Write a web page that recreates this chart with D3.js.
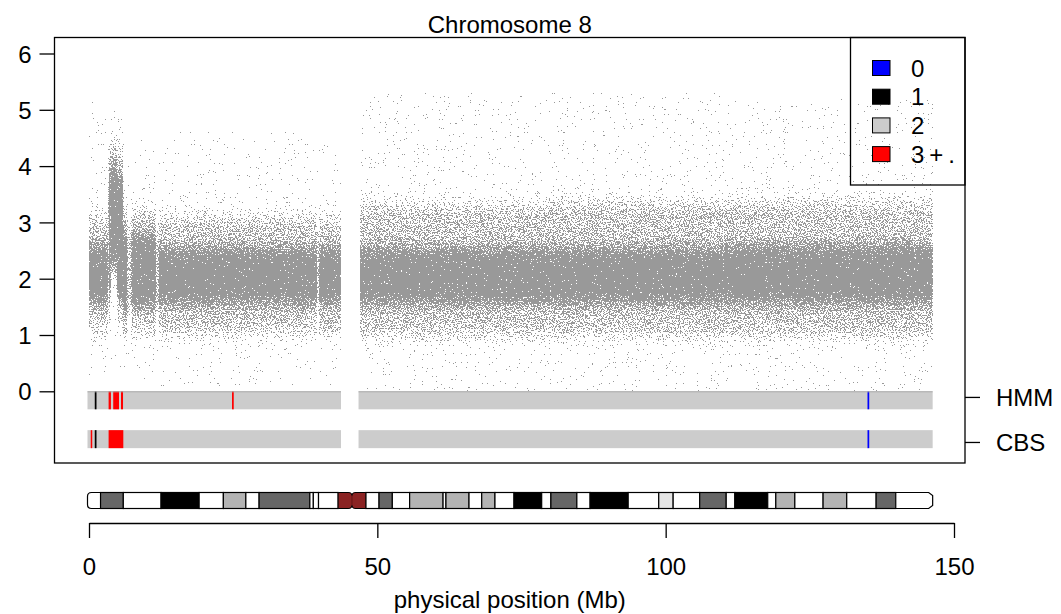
<!DOCTYPE html>
<html>
<head>
<meta charset="utf-8">
<script src="https://cdn.jsdelivr.net/npm/d3@7.9.0/dist/d3.min.js"></script>
<style>
  body { margin: 0; background: #fff; }
  svg text { font-family: "Liberation Sans", Arial, sans-serif; font-size: 24px; fill: #000; }
</style>
</head>
<body>
<svg id="chart" width="1061" height="614"></svg>
<script>
// copy-number cloud, one row per stretch of the chromosome (Mb)
const cloudStart = [0.0, 3.4, 3.75, 4.9, 5.9, 6.65, 7.35, 11.6, 12.1, 39.5, 39.9, 47.0, 80.0, 110.0];
const cloudEnd   = [3.3, 3.75, 4.9, 5.9, 6.65, 7.35, 11.6, 12.1, 39.5, 39.9, 43.7, 80.0, 110.0, 146.3];
const coreLo = [1.6, 1.75, 2.25, 1.65, 1.45, 2.0, 1.55, 2.0, 1.6, 2.0, 1.6, 1.6, 1.6, 1.6];
const coreHi = [2.55, 3.8, 3.95, 3.75, 2.8, 2.0, 2.75, 2.0, 2.5, 2.0, 2.5, 2.5, 2.5, 2.55];
const midLo  = [1.05, 1.2, 2.0, 1.2, 0.9, 1.4, 1.0, 1.4, 1.0, 1.4, 1.0, 0.95, 0.95, 0.95];
const midHi  = [3.15, 4.4, 4.5, 4.3, 3.3, 2.9, 3.25, 2.9, 3.15, 2.9, 3.1, 3.35, 3.4, 3.4];
const outLo  = [0.2, 0.5, 0.4, 0.4, 0.2, 0.6, 0.2, 0.6, 0.1, 0.6, 0.1, 0.0, 0.0, 0.0];
const outHi  = [5.2, 5.0, 5.0, 5.0, 4.6, 4.0, 4.5, 4.0, 4.6, 4.0, 4.4, 5.3, 5.3, 5.2];

// segmentation tracks
const armStart = [0.0, 47.0];
const armEnd   = [43.7, 146.3];
const hmmStart = [1.0, 3.4, 4.2, 5.55, 24.8, 135.0];
const hmmEnd   = [1.3, 3.8, 5.2, 5.9, 25.1, 135.3];
const hmmState = [1, 3, 3, 3, 3, 0];
const cbsStart = [0.3, 1.0, 3.4, 135.0];
const cbsEnd   = [0.5, 1.3, 5.95, 135.3];
const cbsState = [3, 1, 3, 0];

const stateLabels = ["0", "1", "2", "3+."];
const stateColors = ["#0000ff", "#000000", "#cccccc", "#ff0000"];

// ideogram bands (Mb)
const bandStart = [0.0, 2.0, 5.95, 12.5, 19.1, 23.3, 27.2, 29.5, 38.3, 38.9, 39.8, 43.2, 45.6, 48.0, 50.3, 52.6, 55.6, 61.4, 61.9, 65.9, 68.1, 70.4, 73.7, 78.5, 80.1, 84.6, 86.9, 93.5, 98.8, 101.3, 105.9, 110.5, 112.0, 117.7, 119.1, 122.4, 127.3, 131.4, 136.5, 139.9];
const bandEnd   = [2.0, 5.95, 12.5, 19.1, 23.3, 27.2, 29.5, 38.3, 38.9, 39.8, 43.2, 45.6, 48.0, 50.3, 52.6, 55.6, 61.4, 61.9, 65.9, 68.1, 70.4, 73.7, 78.5, 80.1, 84.6, 86.9, 93.5, 98.8, 101.3, 105.9, 110.5, 112.0, 117.7, 119.1, 122.4, 127.3, 131.4, 136.5, 139.9, 146.3];
const bandStain = ["gneg", "gpos75", "gneg", "gpos100", "gneg", "gpos50", "gneg", "gpos75", "gneg", "gneg", "gneg", "acen", "acen", "gneg", "gpos75", "gneg", "gpos50", "gneg", "gpos50", "gneg", "gpos50", "gneg", "gpos100", "gneg", "gpos75", "gneg", "gpos100", "gneg", "gpos25", "gneg", "gpos75", "gneg", "gpos100", "gneg", "gpos50", "gneg", "gpos50", "gneg", "gpos75", "gneg"];

const yTicks = [0, 1, 2, 3, 4, 5, 6];
const xTicks = [0, 50, 100, 150];
const trackTicks = [-0.1, -0.9];
const trackLabels = ["HMM", "CBS"];

const stainFill = { gneg: "#ffffff", gpos25: "#e5e5e5", gpos50: "#b3b3b3", gpos75: "#666666", gpos100: "#000000", acen: "#8b2323" };

const svg = d3.select("#chart");
const box = { left: 54.5, right: 965, top: 37.5, bottom: 463 };

const x = d3.scaleLinear().domain([0, 150]).range([89, 954]);
const y = d3.scaleLinear().domain([0, 6]).range([391.3, 53.5]);

svg.append("rect").attr("width", 1061).attr("height", 614).attr("fill", "#fff");

// speckle filter: turns a density-coded fill (red channel) into scattered grey dots
const defs = svg.append("defs");
const f = defs.append("filter").attr("id", "speckle")
    .attr("filterUnits", "userSpaceOnUse")
    .attr("x", box.left).attr("y", box.top)
    .attr("width", box.right - box.left).attr("height", box.bottom - box.top)
    .attr("color-interpolation-filters", "sRGB");
f.append("feTurbulence").attr("type", "fractalNoise").attr("baseFrequency", 0.77)
    .attr("numOctaves", 2).attr("seed", 7).attr("result", "noise");
f.append("feColorMatrix").attr("in", "noise").attr("type", "matrix")
    .attr("values", "0 0 0 0 0  0 0 0 0 0  0 0 0 0 0  2 0 0 0 -0.5").attr("result", "n");
f.append("feGaussianBlur").attr("in", "SourceGraphic").attr("stdDeviation", "0.4 8").attr("result", "blur");
f.append("feColorMatrix").attr("in", "blur").attr("type", "matrix")
    .attr("values", "0 0 0 0 0  0 0 0 0 0  0 0 0 0 0  1 0 0 0 0").attr("result", "d");
f.append("feComposite").attr("in", "d").attr("in2", "n").attr("operator", "arithmetic")
    .attr("k1", 0).attr("k2", 1).attr("k3", -1).attr("k4", 0.495).attr("result", "diff");
f.append("feComponentTransfer").attr("in", "diff").attr("result", "mask")
    .append("feFuncA").attr("type", "discrete").attr("tableValues", "0 1");
f.append("feFlood").attr("flood-color", "#999999").attr("result", "grey");
f.append("feComposite").attr("in", "grey").attr("in2", "mask").attr("operator", "in");

// cloud layers: outer (sparse), middle, core (dense)
const cloud = cloudStart.map((s, i) => ({
    s, e: cloudEnd[i],
    layers: [[outLo[i], outHi[i]], [midLo[i], midHi[i]], [coreLo[i], coreHi[i]]]
}));
const density = [0.01, 0.45, 0.97];
const cg = svg.append("g").attr("filter", "url(#speckle)");
cg.append("rect").attr("x", box.left).attr("y", box.top)
    .attr("width", box.right - box.left).attr("height", box.bottom - box.top)
    .attr("fill", "#000");
[0, 1, 2].forEach(k => {
    cg.selectAll(null)
        .data(cloud.filter(d => d.layers[k][1] > d.layers[k][0]))
        .join("rect")
        .attr("x", d => x(d.s))
        .attr("width", d => x(d.e) - x(d.s))
        .attr("y", d => y(d.layers[k][1]))
        .attr("height", d => y(d.layers[k][0]) - y(d.layers[k][1]))
        .attr("fill", `rgb(${Math.round(density[k] * 255)},0,0)`);
});

// segmentation tracks
function drawTrack(top, bottom, starts, ends, states) {
    const g = svg.append("g");
    g.selectAll(null).data(armStart).join("rect")
        .attr("x", (d, i) => x(d) - 1.5)
        .attr("width", (d, i) => x(armEnd[i]) - x(d) + 1.5)
        .attr("y", y(top)).attr("height", y(bottom) - y(top))
        .attr("fill", stateColors[2]);
    g.selectAll(null).data(starts).join("rect")
        .attr("x", d => x(d))
        .attr("width", (d, i) => Math.max(1.5, x(ends[i]) - x(d)))
        .attr("y", y(top)).attr("height", y(bottom) - y(top))
        .attr("fill", (d, i) => stateColors[states[i]]);
    return g;
}
const hmm = drawTrack(0, -0.32, hmmStart, hmmEnd, hmmState);
hmm.selectAll(null).data(armStart).join("line")
    .attr("x1", (d) => x(d) - 1.5).attr("x2", (d, i) => x(armEnd[i]))
    .attr("y1", y(0) + 0.5).attr("y2", y(0) + 0.5)
    .attr("stroke", "#aaaaaa").attr("stroke-width", 1);
drawTrack(-0.69, -1.01, cbsStart, cbsEnd, cbsState);

// plot box
svg.append("rect")
    .attr("x", box.left).attr("y", box.top)
    .attr("width", box.right - box.left).attr("height", box.bottom - box.top)
    .attr("fill", "none").attr("stroke", "#000").attr("stroke-width", 1.3);

// left axis
const yAxis = svg.append("g").attr("transform", `translate(${box.left},0)`)
    .call(d3.axisLeft(y).tickValues(yTicks).tickSize(15).tickPadding(8).tickFormat(d3.format("d")));
yAxis.select(".domain").remove();
yAxis.selectAll("line").attr("stroke-width", 1.3);
yAxis.selectAll("text").attr("font-size", 24).attr("dy", "0.36em").attr("font-family", null);

// right axis with track names
const rAxis = svg.append("g").attr("transform", `translate(${box.right},0)`)
    .call(d3.axisRight(y).tickValues(trackTicks).tickSize(15).tickPadding(16)
        .tickFormat((d, i) => trackLabels[i]));
rAxis.select(".domain").remove();
rAxis.selectAll("line").attr("stroke-width", 1.3);
rAxis.selectAll("text").attr("font-size", 24).attr("dy", "0.36em").attr("font-family", null);

// title
svg.append("text").attr("x", (box.left + box.right) / 2).attr("y", 33)
    .attr("text-anchor", "middle").text("Chromosome 8");

// legend
const lg = svg.append("g");
lg.append("rect").attr("x", 850.5).attr("y", box.top)
    .attr("width", box.right - 850.5).attr("height", 185 - box.top)
    .attr("fill", "none").attr("stroke", "#000").attr("stroke-width", 1.3);
stateLabels.forEach((lab, i) => {
    const cy = 68 + i * 28.7;
    lg.append("rect").attr("x", 872.5).attr("y", cy - 7.5).attr("width", 17.5).attr("height", 15)
        .attr("fill", stateColors[i]).attr("stroke", "#000").attr("stroke-width", 1);
    lg.append("text").attr("x", 911).attr("y", cy).attr("dy", "0.36em")
        .attr("letter-spacing", i === 3 ? 5 : 0).text(lab);
});

// ideogram
const ideoTop = 492.5, ideoBot = 508.5;
const bands = bandStart.map((s, i) => ({ s, e: bandEnd[i], stain: bandStain[i] }));
const ig = svg.append("g");
ig.append("rect").attr("x", x(0) - 1.5).attr("y", ideoTop)
    .attr("width", x(146.3) - x(0) + 1.5).attr("height", ideoBot - ideoTop)
    .attr("rx", 4).attr("fill", "#fff");
ig.selectAll(null).data(bands.filter(d => d.stain !== "acen" && d.s > 0 && d.e < 146)).join("rect")
    .attr("x", d => x(d.s)).attr("width", d => x(d.e) - x(d.s))
    .attr("y", ideoTop).attr("height", ideoBot - ideoTop)
    .attr("fill", d => stainFill[d.stain])
    .attr("stroke", "#000").attr("stroke-width", 1.2);
// centromere: two rounded lobes with a small notch between
const acen = bands.filter(d => d.stain === "acen");
const cenX = x(acen[0].e);
const a0 = x(acen[0].s), a1 = x(acen[1].e);
ig.append("path")
    .attr("d", `M${a0},${ideoTop} L${cenX - 3},${ideoTop} Q${cenX},${ideoTop} ${cenX},${ideoTop + 3}
        Q${cenX},${ideoTop} ${cenX + 3},${ideoTop} L${a1},${ideoTop}
        L${a1},${ideoBot} L${cenX + 3},${ideoBot} Q${cenX},${ideoBot} ${cenX},${ideoBot - 3}
        Q${cenX},${ideoBot} ${cenX - 3},${ideoBot} L${a0},${ideoBot} Z`)
    .attr("fill", stainFill.acen).attr("stroke", "#000").attr("stroke-width", 1);
ig.append("line").attr("x1", cenX).attr("x2", cenX).attr("y1", ideoTop + 3).attr("y2", ideoBot - 3)
    .attr("stroke", "#5a1010").attr("stroke-width", 0.8);
// outline of the ends
const xe = x(146.3);
ig.append("path")
    .attr("d", `M${x(2.0)},${ideoTop} L${x(0) + 2.5},${ideoTop} Q${x(0) - 1.5},${ideoTop} ${x(0) - 1.5},${ideoTop + 4}
        L${x(0) - 1.5},${ideoBot - 4} Q${x(0) - 1.5},${ideoBot} ${x(0) + 2.5},${ideoBot} L${x(2.0)},${ideoBot}`)
    .attr("fill", "none").attr("stroke", "#000").attr("stroke-width", 1.2);
ig.append("path")
    .attr("d", `M${x(139.9)},${ideoTop} L${xe - 4},${ideoTop} L${xe},${ideoTop + 3} L${xe},${ideoBot - 3}
        L${xe - 4},${ideoBot} L${x(139.9)},${ideoBot}`)
    .attr("fill", "none").attr("stroke", "#000").attr("stroke-width", 1.2);

// bottom axis
const xAxis = svg.append("g").attr("transform", "translate(0,523)")
    .call(d3.axisBottom(x).tickValues(xTicks).tickSize(15).tickSizeOuter(0).tickPadding(20));
xAxis.select(".domain").attr("stroke-width", 1.3);
xAxis.selectAll("line").attr("stroke-width", 1.3);
xAxis.selectAll("text").attr("font-size", 24).attr("font-family", null);

svg.append("text").attr("x", (box.left + box.right) / 2).attr("y", 608)
    .attr("text-anchor", "middle").text("physical position (Mb)");
</script>
</body>
</html>
